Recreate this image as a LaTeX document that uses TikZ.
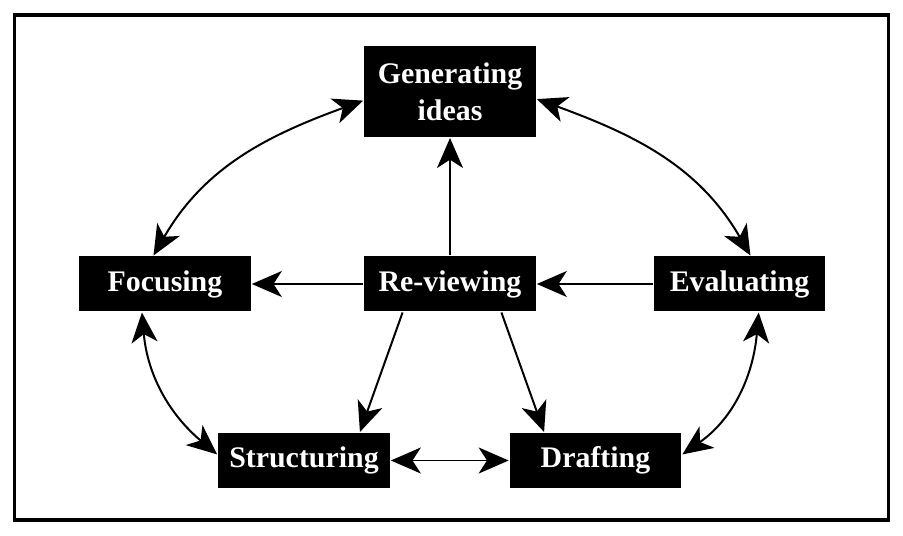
\documentclass[tikz,border=0pt]{standalone}
\usepackage{fontspec}
\setmainfont{Liberation Serif}
\usetikzlibrary{arrows.meta}

\begin{document}
\begin{tikzpicture}[x=0.03cm,y=0.03cm,
    >={Stealth[length=0.9cm,width=0.78cm,inset=0.25cm]},
    box/.style={fill=black,text=white,align=center,inner sep=0pt,
      font=\bfseries\fontsize{25.5}{31.5}\selectfont,
      minimum width=5.15cm,minimum height=1.65cm},
    every path/.style={line width=1.7pt}]
			\useasboundingbox (0,0) rectangle (903,535);
			\draw[line width=2.8pt] (14.3,15) rectangle (888.7,520);
			\node[box,minimum height=2.73cm] (gen) at (450,443.5) {Generating\\ideas};
			\node[box] (foc) at (165,251) {Focusing};
			\node[box] (rev) at (450,251) {Re-viewing};
			\node[box] (eva) at (739.5,251) {Evaluating};
			\node[box] (str) at (304,74.5) {Structuring};
			\node[box] (dra) at (595.5,74.5) {Drafting};
			\draw[->] (rev) -- (gen);
			\draw[->] (rev) -- (foc);
			\draw[->] (eva) -- (rev);
			\draw[->] (rev.-149) -- (str.27);
			\draw[->] (rev.-29) -- (dra.151);
			\draw[<->] (str) -- (dra);
			\draw[<->] (gen.186) to[out=200,in=60] (foc.112);
			\draw[<->] (gen.-5) to[out=-20,in=120] (eva.69);
			\draw[<->] (foc.231) to[out=-85,in=140] (str.176);
			\draw[<->] (eva.-56) to[out=-95,in=35] (dra.4);
		\end{tikzpicture}
\end{document}
